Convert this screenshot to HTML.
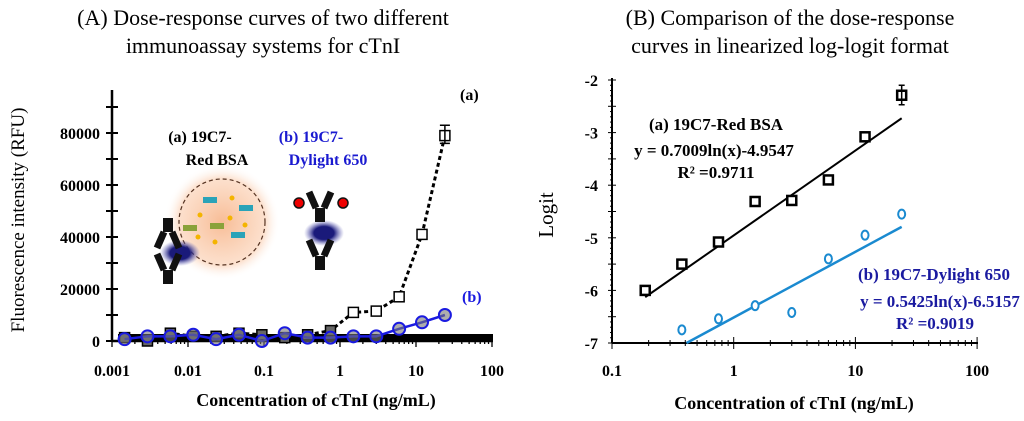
<!DOCTYPE html>
<html><head><meta charset="utf-8"><style>
html,body{margin:0;padding:0;background:#fff;}
svg{display:block;font-family:"Liberation Serif",serif;}
</style></head><body>
<svg id="c" width="1024" height="421" viewBox="0 0 1024 421" xmlns="http://www.w3.org/2000/svg">
<defs>
<radialGradient id="glow"><stop offset="0" stop-color="#f7b58a" stop-opacity="0.9"/><stop offset="0.75" stop-color="#fbd3b8" stop-opacity="0.7"/><stop offset="1" stop-color="#fff" stop-opacity="0"/></radialGradient>
<radialGradient id="bglow"><stop offset="0.5" stop-color="#1a1a7a"/><stop offset="1" stop-color="#6a6ac0" stop-opacity="0"/></radialGradient>
</defs>
<text x="263" y="25" font-size="22" text-anchor="middle">(A) Dose-response curves of two different</text>
<text x="263" y="53" font-size="22" text-anchor="middle">immunoassay systems for cTnI</text>
<text x="790" y="25" font-size="22" text-anchor="middle">(B) Comparison of the dose-response</text>
<text x="790" y="53" font-size="22" text-anchor="middle">curves in linearized log-logit format</text>
<g id="left"></g><g id="right"></g>
</svg>
<script>
// Panel A data
const concA = [24,12,6,3,1.5,0.75,0.375,0.1875,0.09375,0.046875,0.0234375,0.01171875,0.005859375,0.0029296875,0.00146484375];
const redBSA = [79000,41000,17000,11500,11000,4000,2400,1300,2400,3000,1800,1800,3000,0,1300];
const dylight = [10000,7200,4700,1800,1800,1300,1300,3000,0,2400,700,2400,1800,1800,700];
const yTicksA = [0,20000,40000,60000,80000];
const xTicksA = ["0.001","0.01","0.1","1","10","100"];
// Panel B data
const concB1 = [0.1875,0.375,0.75,1.5,3,6,12,24];
const logitRed = [-6.0,-5.5,-5.08,-4.31,-4.29,-3.9,-3.08,-2.29];
const concB2 = [0.375,0.75,1.5,3,6,12,24];
const logitDy = [-6.75,-6.54,-6.29,-6.42,-5.40,-4.95,-4.55];
const yTicksB = [-7,-6,-5,-4,-3,-2];
const xTicksB = ["0.1","1","10","100"];

const NS="http://www.w3.org/2000/svg";
function mk(p,tag,at,txt){const e=document.createElementNS(NS,tag);for(const k in at)e.setAttribute(k,at[k]);if(txt!==undefined)e.textContent=txt;p.appendChild(e);return e;}

// ---- Panel A
const L=document.getElementById('left');
const ax=v=>112+76*(Math.log10(v)+3);
const ay=v=>341-v*(234/90000);
let g=mk(L,'g',{});
mk(g,'circle',{cx:222,cy:222,r:58,fill:'url(#glow)'});
mk(g,'circle',{cx:222,cy:222,r:43,fill:'none',stroke:'#553322','stroke-dasharray':'4,3','stroke-width':1.2});
[[210,200,'#2aa3b8'],[246,208,'#2aa3b8'],[238,235,'#2aa3b8'],[217,226,'#8aa23a'],[190,228,'#8aa23a']].forEach(a=>mk(g,'rect',{x:a[0]-7,y:a[1]-3,width:14,height:6,fill:a[2]}));
[[200,215],[230,218],[215,242],[245,225],[198,237],[232,198]].forEach(a=>mk(g,'circle',{cx:a[0],cy:a[1],r:2.5,fill:'#f4b400'}));
function ab(x,y,flip){const s=flip?-1:1;
 mk(g,'rect',{x:x-5,y:flip?y-14:y,width:10,height:14,fill:'#111'});
 mk(g,'path',{d:`M${x-11} ${y-16*s} L${x-4} ${y} M${x+11} ${y-16*s} L${x+4} ${y}`,stroke:'#111','stroke-width':7,fill:'none'});}
mk(g,'ellipse',{cx:180,cy:253,rx:20,ry:13,fill:'url(#bglow)'});
ab(168,232,true);ab(168,270,false);
mk(g,'ellipse',{cx:324,cy:233,rx:20,ry:13,fill:'url(#bglow)'});
ab(320,208,false);ab(320,256,false);
mk(g,'circle',{cx:299,cy:203,r:5,fill:'#e00',stroke:'#111','stroke-width':1.5});
mk(g,'circle',{cx:343,cy:203,r:5,fill:'#e00',stroke:'#111','stroke-width':1.5});
let t=mk(L,'text',{x:200,y:142,'font-size':16,'font-weight':'bold','text-anchor':'middle'},'(a) 19C7-');
mk(L,'text',{x:217,y:165,'font-size':16,'font-weight':'bold','text-anchor':'middle'},'Red BSA');
t=mk(L,'text',{x:311,y:142,'font-size':16,'font-weight':'bold','text-anchor':'middle',fill:'#1a1ad0'},'(b) 19C7-');
mk(L,'text',{x:328,y:165,'font-size':16,'font-weight':'bold','text-anchor':'middle',fill:'#1a1ad0'},'Dylight 650');
let a=mk(L,'g',{stroke:'#000','stroke-width':2.5});
mk(a,'line',{x1:112,y1:341,x2:112,y2:90});mk(a,'line',{x1:112,y1:341,x2:493,y2:341});
for(let v=0;v<=90000;v+=10000)mk(a,'line',{x1:106,y1:ay(v),x2:118,y2:ay(v),'stroke-width':2});
for(let d=-3;d<2;d++)for(let m=1;m<10;m++){const x=ax(m*Math.pow(10,d));mk(a,'line',{x1:x,y1:341,x2:x,y2:m==1?347:344,'stroke-width':1.3});}
mk(a,'line',{x1:ax(100),y1:341,x2:ax(100),y2:347,'stroke-width':1.3});
mk(L,'rect',{x:118,y:334,width:375,height:7,fill:'#000'});
yTicksA.forEach(v=>{const e=mk(L,'text',{x:100,y:ay(v)+6,'font-size':16,'font-weight':'bold','text-anchor':'end'},String(v));});
xTicksA.forEach(s=>{const e=mk(L,'text',{x:ax(+s),y:376,'font-size':16,'font-weight':'bold','text-anchor':'middle'},s);});
t=mk(L,'text',{x:316,y:406,'font-size':18,'font-weight':'bold','text-anchor':'middle'},'Concentration of cTnI (ng/mL)');
t=mk(L,'text',{transform:'translate(24,220) rotate(-90)','font-size':19,'text-anchor':'middle'},'Fluorescence intensity (RFU)');
let pts=concA.map((c,i)=>[ax(c),ay(redBSA[i])]);
let p=mk(L,'polyline',{points:pts.map(q=>q.join(',')).join(' '),fill:'none',stroke:'#000','stroke-width':3,'stroke-dasharray':'4,3'});

pts.forEach((q,i)=>{const r=mk(L,'rect',{x:q[0]-5,y:q[1]-5,width:10,height:10,fill:i<5?'#fff':'#666',stroke:'#000','stroke-width':1.5});});
mk(L,'path',{d:`M${pts[0][0]} ${ay(83000)} V${ay(76000)} M${pts[0][0]-5} ${ay(83000)} h10 M${pts[0][0]-5} ${ay(76000)} h10`,stroke:'#000','stroke-width':1.5});
mk(L,'text',{x:460,y:100,'font-size':16,'font-weight':'bold'},'(a)');
pts=concA.map((c,i)=>[ax(c),ay(dylight[i])]);
p=mk(L,'polyline',{points:pts.map(q=>q.join(',')).join(' '),fill:'none',stroke:'#1a1ae0','stroke-width':2.5});

pts.forEach(q=>{const c=mk(L,'circle',{cx:q[0],cy:q[1],r:6,fill:'#777','fill-opacity':0.6,stroke:'#1a1ae0','stroke-width':2});});
mk(L,'text',{x:462,y:302,'font-size':16,'font-weight':'bold',fill:'#1a1ae0'},'(b)');

// ---- Panel B
const R=document.getElementById('right');
const bx=v=>612+121.7*(Math.log10(v)+1);
const by=v=>343-(v+7)*52.6;
a=mk(R,'g',{stroke:'#000','stroke-width':2});
mk(a,'line',{x1:612,y1:343,x2:612,y2:78});mk(a,'line',{x1:612,y1:343,x2:978,y2:343});
for(let v=-7;v<=-2.01;v+=0.1){const major=Math.abs(v*2-Math.round(v*2))<0.01;mk(a,'line',{x1:major?608:610,y1:by(v),x2:major?616:612,y2:by(v),'stroke-width':1});}
mk(a,'line',{x1:608,y1:by(-2),x2:616,y2:by(-2),'stroke-width':1});
for(let d=-1;d<2;d++)for(let m=1;m<10;m++){const x=bx(m*Math.pow(10,d));mk(a,'line',{x1:x,y1:m==1?337:340,y2:m==1?349:346,x2:x,'stroke-width':1});}
mk(a,'line',{x1:bx(100),y1:337,x2:bx(100),y2:349,'stroke-width':1});
yTicksB.forEach(v=>{const e=mk(R,'text',{x:598,y:by(v)+6,'font-size':16,'font-weight':'bold','text-anchor':'end'},String(v));});
xTicksB.forEach(s=>{const e=mk(R,'text',{x:bx(+s),y:376,'font-size':16,'font-weight':'bold','text-anchor':'middle'},s);});
t=mk(R,'text',{x:794,y:409,'font-size':18,'font-weight':'bold','text-anchor':'middle'},'Concentration of cTnI (ng/mL)');
t=mk(R,'text',{transform:'translate(553,215) rotate(-90)','font-size':21,'text-anchor':'middle'},'Logit');
const f1=x=>0.7009*Math.log(x)-4.9547, f2=x=>0.5425*Math.log(x)-6.5157;
p=mk(R,'line',{x1:bx(concB1[0]),y1:by(f1(concB1[0])),x2:bx(24),y2:by(f1(24)),stroke:'#000','stroke-width':2});
const x0=Math.exp((-7+6.5157)/0.5425);
p=mk(R,'line',{x1:bx(x0),y1:by(-7),x2:bx(24),y2:by(f2(24)),stroke:'#1a8ad0','stroke-width':2.5});
concB1.forEach((c,i)=>{const x=bx(c),y=by(logitRed[i]);const r=mk(R,'rect',{x:x-4.5,y:y-4.5,width:9,height:9,fill:'#fff',stroke:'#000','stroke-width':2.5});});
{const x=bx(24);mk(R,'path',{d:`M${x} ${by(-2.1)} V${by(-2.47)} M${x-3} ${by(-2.1)} h6 M${x-3} ${by(-2.47)} h6`,stroke:'#000','stroke-width':1.5});}
concB2.forEach((c,i)=>{const e=mk(R,'ellipse',{cx:bx(c),cy:by(logitDy[i]),rx:3.5,ry:4.5,fill:'#fff',stroke:'#1a8ad0','stroke-width':2});});
t=mk(R,'text',{x:716,y:130,'font-size':17,'font-weight':'bold','text-anchor':'middle'},'(a) 19C7-Red BSA');
mk(R,'text',{x:714,y:156,'font-size':17,'font-weight':'bold','text-anchor':'middle'},'y = 0.7009ln(x)-4.9547');
mk(R,'text',{x:716,y:178,'font-size':17,'font-weight':'bold','text-anchor':'middle'},'R² =0.9711');
t=mk(R,'text',{x:934,y:280,'font-size':17,'font-weight':'bold','text-anchor':'middle',fill:'#1a1aa0'},'(b) 19C7-Dylight 650');
mk(R,'text',{x:940,y:307,'font-size':17,'font-weight':'bold','text-anchor':'middle',fill:'#1a1aa0'},'y = 0.5425ln(x)-6.5157');
mk(R,'text',{x:935,y:329,'font-size':17,'font-weight':'bold','text-anchor':'middle',fill:'#1a1aa0'},'R² =0.9019');
</script>
</body></html>
